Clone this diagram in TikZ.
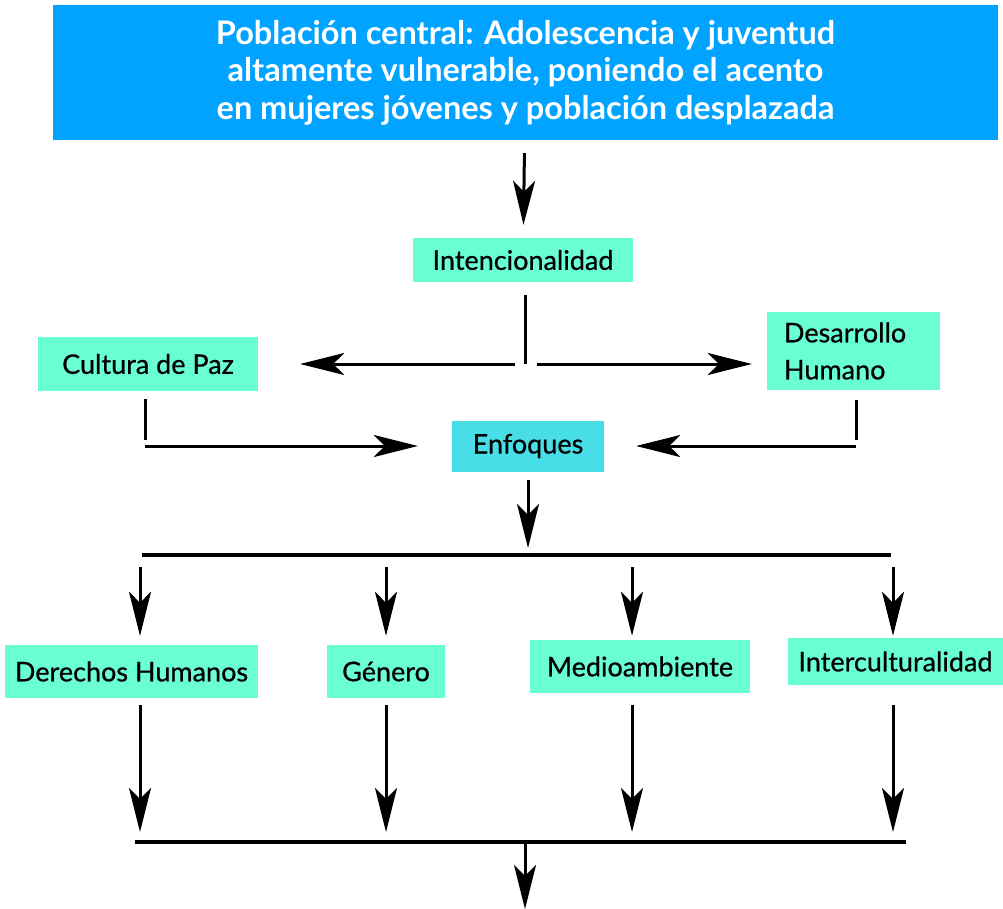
\documentclass[tikz,border=0pt]{standalone}
\usepackage{fontspec}
\setmainfont{Lato}
\newfontfamily\labelfont{Lato}[FakeBold=0.7]
\usetikzlibrary{arrows.meta, positioning}
\definecolor{topcol}{RGB}{0,163,255}
\definecolor{boxcol}{RGB}{106,255,211}
\definecolor{focuscol}{RGB}{72,222,232}

\begin{document}
\begin{tikzpicture}[
			x=1pt,
			y=-1pt,
			box/.style={
				fill=boxcol,
				inner sep=0pt,
				font=\labelfont\fontsize{27}{37}\selectfont
			},
			flow/.style={
				-{Stealth[length=44pt, width=22pt, inset=11pt]},
				line width=3pt
			},
			stem/.style={
				line width=3pt
			},
			bar/.style={
				line width=4pt
			}
			]
			\useasboundingbox (0,0) rectangle (1003,909);
			
			% Boxes
			\node[fill=topcol, inner sep=0pt, minimum width=945pt, minimum height=135pt,
				text=white, align=center, font=\bfseries\fontsize{32.5}{37.5}\selectfont]
				(pop) at (525.5,72.5) {Población central: Adolescencia y juventud\\
				altamente vulnerable, poniendo el acento\\
				en mujeres jóvenes y población desplazada};
			\node[box, minimum width=220pt, minimum height=44pt] (intc) at (523,260) {Intencionalidad};
			\node[box, minimum width=220pt, minimum height=54pt] (paz) at (148,364) {Cultura de Paz};
			\node[box, inner xsep=17pt, text width=139pt, minimum height=78pt, align=left] (des) at (853.5,351) {Desarrollo\\Humano};
			\node[box, fill=focuscol, minimum width=152pt, minimum height=51pt] (enf) at (528,446) {Enfoques};
			\node[box, minimum width=253pt, minimum height=53pt] (dh) at (131.5,671.5) {Derechos Humanos};
			\node[box, minimum width=118pt, minimum height=53pt] (gen) at (386,671.5) {Género};
			\node[box, minimum width=220pt, minimum height=53pt] (med) at (640,666.5) {Medioambiente};
			\node[box, minimum width=215pt, minimum height=47pt] (inter) at (895.5,661.5) {Interculturalidad};
			
			% Joints
			\coordinate (split) at (525,364);
			\coordinate (pazturn) at (145,446);
			\coordinate (desturn) at (856,446);
			\coordinate (hub) at (528,555);
			\coordinate (barL) at (142,555);
			\coordinate (barR) at (891,555);
			\coordinate (sumL) at (135,842);
			\coordinate (sumR) at (906,842);
			\coordinate (sum) at (525,842);
			\coordinate (out) at (525,909);
			
			% Connectors
			\draw[flow, shorten <=13pt, shorten >=13pt] (pop) -- (intc);
			\draw[stem, shorten <=13pt] (intc.south -| split) -- (split);
			\draw[flow, shorten <=10pt, shorten >=42pt] (split) -- (paz);
			\draw[flow, shorten <=12pt, shorten >=15pt] (split) -- (split -| des.west);
			\draw[stem, shorten <=8pt, shorten >=6pt] (paz.south -| pazturn) -- (pazturn);
			\draw[flow, shorten >=34pt] (pazturn) -- (enf);
			\draw[stem, shorten <=10pt, shorten >=6pt] (des.south -| desturn) -- (desturn);
			\draw[flow, shorten >=32pt] (desturn) -- (enf);
			\draw[flow, shorten <=8pt, shorten >=7pt] (enf) -- (hub);
			\draw[bar] (barL) -- (barR);
			\foreach \n/\x/\s/\t in {dh/140/9/7, gen/386/9/7, med/632/4/12, inter/893/2/20} {
				\coordinate (a\n) at (\x,567);
				\coordinate (c\n) at (\x,842);
				\draw[flow, shorten >=\s pt] (a\n) -- (a\n |- \n.north);
				\draw[flow, shorten <=\t pt, shorten >=10pt] (a\n |- \n.south) -- (c\n);
			}
			\draw[bar] (sumL) -- (sumR);
			\draw[flow] (sum) -- (out);
		\end{tikzpicture}
\end{document}
